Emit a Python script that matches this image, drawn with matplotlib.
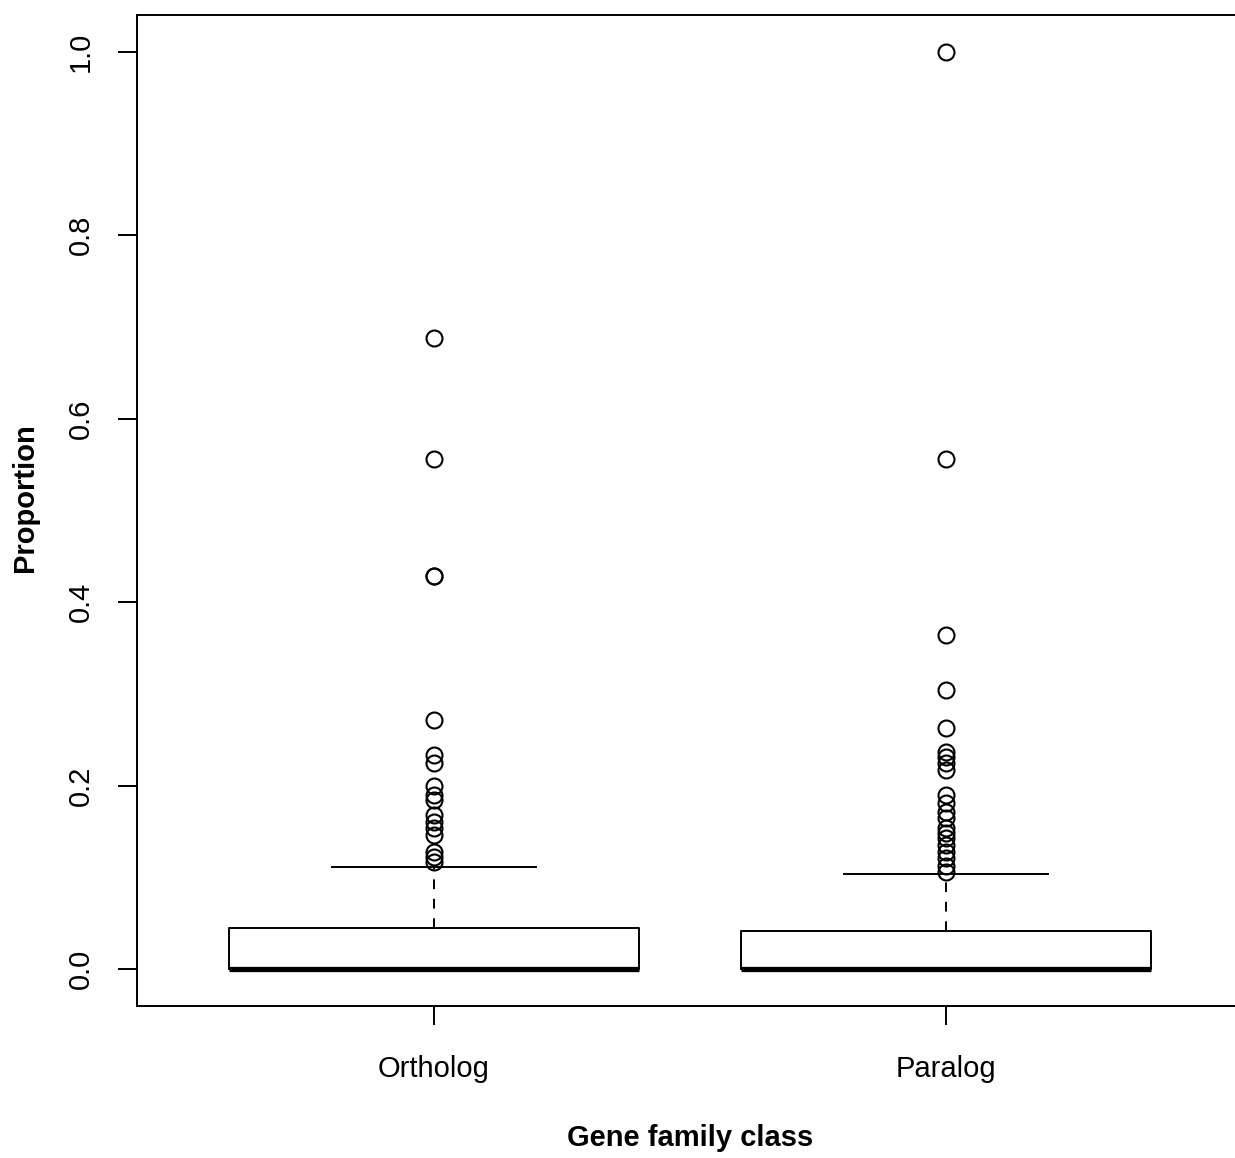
import matplotlib
matplotlib.use("Agg")
from matplotlib import pyplot as plt

plt.rcParams['font.family'] = ['Liberation Sans', 'DejaVu Sans']

classes = ['Ortholog', 'Paralog']
q1 = [0.0, 0.0]
med = [0.0, 0.0]
q3 = [0.045, 0.0414]
whis_lo = [0.0, 0.0]
whis_hi = [0.111, 0.1036]
ortholog_out = [0.688, 0.556, 0.429, 0.429, 0.272, 0.233, 0.225, 0.2, 0.19, 0.184,
                0.168, 0.16, 0.154, 0.146, 0.128, 0.122, 0.117]
paralog_out = [1.0, 0.556, 0.364, 0.304, 0.263, 0.237, 0.231, 0.225, 0.217, 0.19,
               0.181, 0.171, 0.165, 0.154, 0.148, 0.143, 0.135, 0.128, 0.121, 0.113, 0.106]
fliers = [ortholog_out, paralog_out]

stats = []
for i in range(len(classes)):
    stats.append({'label': classes[i], 'q1': q1[i], 'med': med[i], 'q3': q3[i],
                  'whislo': whis_lo[i], 'whishi': whis_hi[i], 'fliers': fliers[i]})

fig = plt.figure(figsize=(12.35, 11.58), dpi=100)
ax = fig.add_axes([137 / 1235, 152 / 1158, 1106 / 1235, 991 / 1158])

lw = 1.4
ax.bxp(stats, positions=[1, 2], widths=0.8, capwidths=0.4,
       boxprops=dict(color='black', linewidth=lw),
       medianprops=dict(color='black', linewidth=3.8, solid_capstyle='butt'),
       whiskerprops=dict(color='black', linewidth=lw, linestyle=(0, (5, 5))),
       capprops=dict(color='black', linewidth=lw),
       flierprops=dict(marker='o', markerfacecolor='none', markeredgecolor='black',
                       markersize=11.5, markeredgewidth=1.5, linestyle='none'))

ax.set_xlim(0.42, 2.58)
ax.set_ylim(-0.04, 1.04)
ax.set_yticks([0.0, 0.2, 0.4, 0.6, 0.8, 1.0])
ax.set_yticklabels(['0.0', '0.2', '0.4', '0.6', '0.8', '1.0'], rotation=90, va='center')
ax.set_xticks([1, 2])
ax.set_xticklabels(classes)
ax.tick_params(axis='both', labelsize=21, length=13.5, width=lw, color='black')
ax.tick_params(axis='x', pad=22)
ax.tick_params(axis='y', pad=17)
for s in ax.spines.values():
    s.set_linewidth(lw)

fig.text(25 / 1235, 1 - 498 / 1158, 'Proportion', rotation=90, ha='center', va='center',
         fontsize=21, fontweight='bold')
fig.text(690 / 1235, 1 - 1138 / 1158, 'Gene family class', ha='center', va='center',
         fontsize=21, fontweight='bold')

fig.savefig('out.png', dpi=100)
